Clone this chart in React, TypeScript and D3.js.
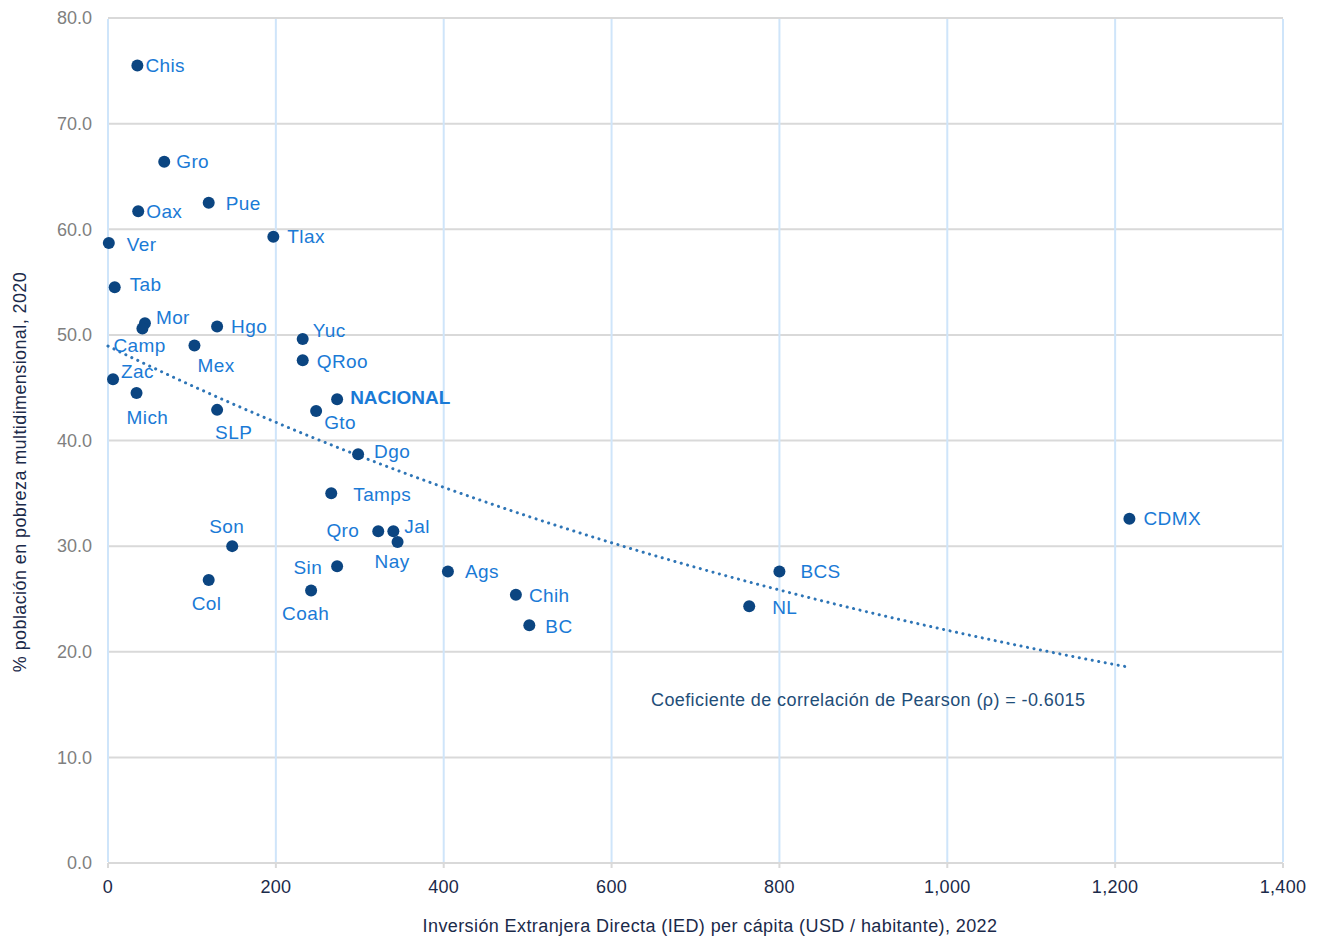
import React, { useEffect, useRef } from 'react'
import * as d3 from 'd3'

// estados (IED per cápita USD 2022, % pobreza multidimensional 2020)
const states = ['Chis', 'Gro', 'Oax', 'Pue', 'Ver', 'Tlax', 'Tab', 'Mor', 'Camp', 'Hgo', 'Yuc', 'Mex', 'QRoo', 'Zac', 'Mich', 'SLP', 'Gto', 'Dgo', 'Tamps', 'CDMX', 'Son', 'Qro', 'Jal', 'Nay', 'Sin', 'Ags', 'BCS', 'Col', 'Coah', 'Chih', 'NL', 'BC']
const ied = [35, 67, 36, 120, 1, 197, 8, 44, 41, 130, 232, 103, 232, 6, 34, 130, 248, 298, 266, 1217, 148, 322, 340, 345, 273, 405, 800, 120, 242, 486, 764, 502]
const pobreza = [75.5, 66.4, 61.7, 62.5, 58.7, 59.3, 54.5, 51.1, 50.6, 50.8, 49.6, 49.0, 47.6, 45.8, 44.5, 42.9, 42.8, 38.7, 35.0, 32.6, 30.0, 31.4, 31.4, 30.4, 28.1, 27.6, 27.6, 26.8, 25.8, 25.4, 24.3, 22.5]

const nacional = { label: 'NACIONAL', ied: 273, pobreza: 43.9 }

const xTicks = [0, 200, 400, 600, 800, 1000, 1200, 1400]
const yTicks = [0, 10, 20, 30, 40, 50, 60, 70, 80]

// label offsets from dot (dx, dy, anchor)
const labelPos: Record<string, [number, number, string?]> = {
  Chis: [8, 0], Gro: [12, 0], Oax: [8, 0], Pue: [17, 1], Ver: [18, 1], Tlax: [14, 0],
  Tab: [15, -3], Mor: [11, -6], Camp: [-29, 17], Hgo: [14, 0], Yuc: [10, -9],
  Mex: [3, 20], QRoo: [14, 1], Zac: [8, -8], Mich: [-10, 24], SLP: [-2, 22],
  Gto: [8, 11], Dgo: [16, -3], Tamps: [22, 1], CDMX: [14, 0], Son: [-23, -20],
  Qro: [-19, -1, 'end'], Jal: [11, -5], Nay: [-23, 19], Sin: [-15, 1, 'end'],
  Ags: [17, 0], BCS: [21, 0], Col: [-17, 23], Coah: [-29, 23], Chih: [13, 1],
  NL: [23, 1], BC: [16, 1], NACIONAL: [13, -2],
}

export default function App() {
  const ref = useRef<SVGSVGElement>(null)

  useEffect(() => {
    const width = 1321
    const height = 937
    const m = { left: 108, right: 38, top: 18, bottom: 74 }
    const svg = d3.select(ref.current)
    svg.selectAll('*').remove()
    const font = 'Liberation Sans, Arial, sans-serif'

    const x = d3.scaleLinear().domain([0, 1400]).range([m.left, width - m.right])
    const y = d3.scaleLinear().domain([0, 80]).range([height - m.bottom, m.top])

    // grid
    svg.append('g').selectAll('line').data(yTicks).enter().append('line')
      .attr('x1', x(0)).attr('x2', x(1400))
      .attr('y1', d => y(d)).attr('y2', d => y(d))
      .attr('stroke', '#d9d9d9').attr('stroke-width', 2)
    svg.append('g').selectAll('line').data(xTicks).enter().append('line')
      .attr('x1', d => x(d)).attr('x2', d => x(d))
      .attr('y1', y(80) + 1).attr('y2', y(0) - 1)
      .attr('stroke', '#cfe5fa').attr('stroke-width', 2)
    svg.append('g').selectAll('line').data(xTicks).enter().append('line')
      .attr('x1', d => x(d)).attr('x2', d => x(d))
      .attr('y1', y(0)).attr('y2', y(0) + 5)
      .attr('stroke', '#d9d9d9').attr('stroke-width', 2)

    svg.append('g').selectAll('text').data(yTicks).enter().append('text')
      .attr('x', x(0) - 16).attr('y', d => y(d))
      .attr('dy', '0.35em').attr('text-anchor', 'end')
      .attr('font-family', font).attr('font-size', 18).attr('fill', '#7f7f7f')
      .text(d => d3.format('.1f')(d))
    svg.append('g').selectAll('text').data(xTicks).enter().append('text')
      .attr('x', d => x(d)).attr('y', y(0) + 24)
      .attr('dy', '0.35em').attr('text-anchor', 'middle')
      .attr('font-family', font).attr('font-size', 18).attr('letter-spacing', 0.3)
      .attr('fill', '#1b2a4a')
      .text(d => d3.format(',')(d))

    // axis titles
    svg.append('text')
      .attr('transform', `translate(20,472) rotate(-90)`)
      .attr('dy', '0.35em')
      .attr('text-anchor', 'middle')
      .attr('font-family', font).attr('font-size', 18).attr('letter-spacing', 0.4)
      .attr('fill', '#1b2a4a')
      .text('% población en pobreza multidimensional, 2020')
    svg.append('text')
      .attr('x', 710).attr('y', 926).attr('dy', '0.35em')
      .attr('text-anchor', 'middle')
      .attr('font-family', font).attr('font-size', 18).attr('letter-spacing', 0.4)
      .attr('fill', '#1b2a4a')
      .text('Inversión Extranjera Directa (IED) per cápita (USD / habitante), 2022')

    // exponential trend fitted on ln(y)
    const ly = pobreza.map(v => Math.log(v))
    const mx = d3.mean(ied) as number
    const my = d3.mean(ly) as number
    const b = d3.sum(ied, (v, i) => (v - mx) * (ly[i] - my)) / d3.sum(ied, v => (v - mx) ** 2)
    const a = Math.exp(my - b * mx)
    const xMax = d3.max(ied) as number
    const trendX = d3.range(0, xMax, 10).concat([xMax])
    const line = d3.line<number>().x(d => x(d)).y(d => y(a * Math.exp(b * d)))
    svg.append('path')
      .attr('d', line(trendX))
      .attr('fill', 'none').attr('stroke', '#2e75b6')
      .attr('stroke-width', 3).attr('stroke-dasharray', '0.1 6.5')
      .attr('stroke-linecap', 'round')

    // points
    const pts = states.map((s, i) => ({ label: s, ied: ied[i], pobreza: pobreza[i], bold: false }))
    pts.push({ ...nacional, bold: true })

    svg.append('g').selectAll('circle').data(pts).enter().append('circle')
      .attr('cx', d => x(d.ied)).attr('cy', d => y(d.pobreza))
      .attr('r', 6).attr('fill', '#0b4581')

    svg.append('g').selectAll('text').data(pts).enter().append('text')
      .attr('x', d => x(d.ied) + labelPos[d.label][0])
      .attr('y', d => y(d.pobreza) + labelPos[d.label][1])
      .attr('dy', '0.35em')
      .attr('text-anchor', d => labelPos[d.label][2] || 'start')
      .attr('font-family', font).attr('font-size', 19).attr('letter-spacing', d => d.bold ? 0 : 0.4)
      .attr('font-weight', d => d.bold ? 'bold' : 'normal')
      .attr('fill', '#1a7ad6')
      .text(d => d.label)

    svg.append('text')
      .attr('x', 651).attr('y', 700).attr('dy', '0.35em')
      .attr('font-family', font).attr('font-size', 18).attr('letter-spacing', 0.4)
      .attr('fill', '#1f4e79')
      .text('Coeficiente de correlación de Pearson (ρ) = -0.6015')
  }, [])

  return <svg ref={ref} width={1321} height={937} style={{ position: 'absolute', left: 0, top: 0, display: 'block' }} />
}
